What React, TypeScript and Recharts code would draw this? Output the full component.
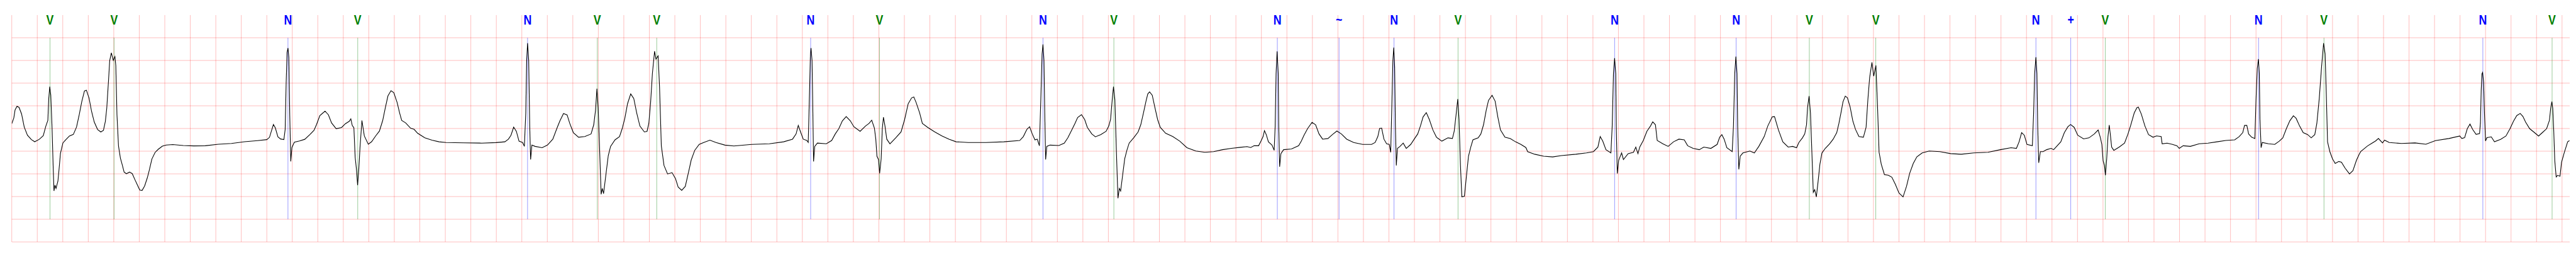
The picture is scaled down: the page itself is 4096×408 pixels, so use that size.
import React from 'react';
import { LineChart, Line, XAxis, YAxis, ReferenceLine, ReferenceDot } from 'recharts';

// ECG samples (time in seconds, amplitude in mV)
const ecgTimeS: number[] = [
  0.000, 0.016, 0.026, 0.041, 0.057, 0.077, 0.098, 0.123, 0.154, 0.180, 0.216, 0.247, 0.267, 0.283, 0.290, 0.298, 0.306, 0.316, 0.324, 0.331, 0.339, 0.347, 0.362, 0.370, 0.382, 0.401, 0.421, 0.452, 0.483, 0.508, 0.529, 0.549, 0.570, 0.585, 0.606, 0.626, 0.647, 0.673, 0.698, 0.719, 0.734, 0.745, 0.758, 0.768, 0.781, 0.796, 0.809, 0.816, 0.825, 0.837, 0.852, 0.868, 0.881, 0.899, 0.924, 0.945, 0.965, 0.986, 1.004, 1.022, 1.042, 1.063, 1.078, 1.099, 1.124, 1.150, 1.181, 1.212, 1.263, 1.345, 1.427, 1.518,
  1.620, 1.723, 1.826, 1.928, 2.000, 2.021, 2.036, 2.052, 2.067, 2.087, 2.108, 2.134, 2.144, 2.152, 2.159, 2.166, 2.173, 2.180, 2.188, 2.197, 2.216, 2.257, 2.298, 2.339, 2.370, 2.390, 2.416, 2.442, 2.457, 2.483, 2.508, 2.544, 2.586, 2.616, 2.647, 2.659, 2.670, 2.683, 2.693, 2.704, 2.712, 2.721, 2.731, 2.746, 2.755, 2.765, 2.796, 2.822, 2.853, 2.883, 2.909, 2.929, 2.950, 2.974, 2.996, 3.022, 3.042, 3.058, 3.089, 3.128,
  3.155, 3.183, 3.239, 3.295, 3.351, 3.406, 3.546, 3.685, 3.797, 3.867, 3.895, 3.915, 3.936, 3.957, 3.978, 4.006, 4.020, 4.031, 4.038, 4.045, 4.054, 4.062, 4.069, 4.079, 4.104, 4.159, 4.201, 4.243, 4.278, 4.299, 4.327, 4.355, 4.376, 4.404, 4.445, 4.494, 4.543, 4.564, 4.578, 4.589, 4.599, 4.609, 4.622, 4.631, 4.641, 4.662, 4.678, 4.696, 4.731, 4.766, 4.787, 4.808, 4.829, 4.854, 4.878, 4.901, 4.926, 4.961, 4.982, 4.996, 5.010, 5.024, 5.041, 5.052, 5.069, 5.080, 5.094, 5.115, 5.143, 5.178, 5.205, 5.226, 5.254, 5.282, 5.314,
  5.328, 5.356, 5.391, 5.426, 5.475, 5.523, 5.593, 5.663, 5.802, 5.942, 6.053, 6.123, 6.151, 6.168, 6.186, 6.207, 6.235, 6.246, 6.256, 6.263, 6.268, 6.276, 6.281, 6.288, 6.297, 6.318, 6.388, 6.430, 6.458, 6.486, 6.514, 6.544, 6.576, 6.604, 6.653, 6.695, 6.723, 6.744, 6.765, 6.776, 6.785, 6.797, 6.806, 6.818, 6.827, 6.836, 6.848, 6.862, 6.887, 6.932, 6.974, 7.002, 7.030, 7.057, 7.074, 7.092, 7.120, 7.141, 7.183, 7.239, 7.294, 7.350, 7.406, 7.501,
  7.640, 7.780, 7.905, 7.933, 7.961, 7.982, 8.003, 8.024, 8.042, 8.059, 8.070, 8.080, 8.087, 8.095, 8.101, 8.108, 8.117, 8.142, 8.212, 8.254, 8.282, 8.310, 8.338, 8.359, 8.389, 8.414, 8.435, 8.470, 8.498, 8.540, 8.582, 8.603, 8.617, 8.630, 8.640, 8.651, 8.663, 8.675, 8.686, 8.696, 8.711, 8.728, 8.745, 8.763, 8.798, 8.833, 8.854, 8.875, 8.895, 8.909, 8.923, 8.944, 8.965, 8.986, 9.007, 9.049, 9.105, 9.160, 9.216, 9.286, 9.356, 9.425, 9.495, 9.565, 9.635, 9.688,
  9.716, 9.743, 9.778, 9.799, 9.813, 9.824, 9.838, 9.855, 9.883, 9.900, 9.908, 9.915, 9.923, 9.932, 9.936, 9.943, 9.953, 9.974, 10.036, 10.092, 10.113, 10.134, 10.162, 10.197, 10.225, 10.252, 10.280, 10.322, 10.357, 10.392, 10.427, 10.469, 10.524, 10.594, 10.664, 10.692, 10.713, 10.727, 10.743, 10.761, 10.782, 10.803, 10.814, 10.824, 10.831, 10.838, 10.845, 10.851, 10.858, 10.867, 10.887, 10.912, 10.936, 10.971, 11.005, 11.026, 11.047, 11.068, 11.093, 11.117, 11.145, 11.173, 11.215, 11.263, 11.298, 11.312, 11.326, 11.340, 11.350, 11.361, 11.372, 11.392, 11.406, 11.424, 11.442, 11.459, 11.500, 11.521, 11.542, 11.563, 11.581, 11.609, 11.633, 11.654, 11.675, 11.710, 11.752, 11.793, 11.835, 11.874,
  11.888, 11.944, 12.014, 12.084, 12.153, 12.265, 12.349, 12.404, 12.439, 12.457, 12.477, 12.502, 12.541, 12.551, 12.561, 12.570, 12.579, 12.583, 12.591, 12.602, 12.625, 12.639, 12.676, 12.718, 12.736, 12.753, 12.767, 12.795, 12.823, 12.851, 12.869, 12.890, 12.904, 12.948, 12.990, 13.032, 13.074, 13.116, 13.143, 13.185, 13.234, 13.269, 13.325, 13.374, 13.394, 13.411, 13.429, 13.450, 13.492, 13.502, 13.512, 13.521, 13.530, 13.535, 13.544, 13.555, 13.576, 13.631, 13.666, 13.701, 13.743, 13.771, 13.806, 13.824, 13.855, 13.889, 13.931, 13.966, 13.997, 14.015, 14.043, 14.061,
  14.075, 14.083, 14.095, 14.106, 14.117, 14.128, 14.139, 14.152, 14.166, 14.180, 14.196, 14.222, 14.256, 14.284, 14.312, 14.329, 14.347, 14.361, 14.379, 14.396, 14.417, 14.438, 14.459, 14.486, 14.521, 14.542, 14.556, 14.570, 14.588, 14.602, 14.619, 14.630, 14.644, 14.661, 14.686, 14.717, 14.744, 14.772, 14.800, 14.832, 14.859, 14.884, 14.912, 14.940, 14.982, 15.037, 15.121, 15.205, 15.288, 15.386, 15.498, 15.595, 15.679, 15.721, 15.742, 15.762, 15.783, 15.804, 15.846, 15.856, 15.864, 15.874, 15.882, 15.888, 15.896, 15.909, 15.930, 15.958, 15.993, 16.013, 16.041, 16.069, 16.097, 16.125, 16.146, 16.174, 16.202, 16.248,
  16.290, 16.332, 16.362, 16.380, 16.391, 16.401, 16.411, 16.419, 16.429, 16.439, 16.449, 16.457, 16.468, 16.485, 16.527, 16.569, 16.596, 16.617, 16.645, 16.666, 16.677, 16.701, 16.729, 16.757, 16.792, 16.820, 16.856, 16.864, 16.903, 16.945, 16.980, 16.998, 17.029, 17.085, 17.154, 17.224, 17.294, 17.363, 17.433, 17.468, 17.496, 17.510, 17.528, 17.542, 17.566, 17.591, 17.600, 17.610, 17.619, 17.626, 17.631, 17.640, 17.649, 17.698, 17.747, 17.782, 17.810, 17.838, 17.865, 17.893, 17.914, 17.942, 17.970, 18.005, 18.033, 18.061, 18.077, 18.096, 18.114, 18.130, 18.142, 18.151, 18.161, 18.179, 18.200, 18.221, 18.249, 18.270, 18.298, 18.333, 18.360, 18.388, 18.409,
  18.421, 18.475, 18.506, 18.538, 18.560, 18.592, 18.608, 18.645, 18.741, 18.847, 18.932, 19.007, 19.113, 19.198, 19.214, 19.236, 19.257, 19.278, 19.299, 19.326, 19.353, 19.360, 19.366, 19.372, 19.377, 19.385, 19.392, 19.400, 19.411, 19.445, 19.470, 19.518, 19.560, 19.592, 19.619, 19.645, 19.672, 19.693, 19.714, 19.746, 19.778, 19.816, 19.847, 19.879, 19.901, 19.911, 19.920, 19.927, 19.935, 19.943, 19.954, 19.965, 19.984, 19.996, 20.018, 20.034, 20.044, 20.058,
];

const ecgMv: number[] = [
  0.105, 0.231, 0.41, 0.49, 0.466, 0.32, 0.03, -0.148, -0.245, -0.292, -0.238, -0.159, 0.05, 0.177, 0.664, 0.924, 0.736, 0.014, -0.78, -1.375, -1.249, -1.321, -1.159, -0.924, -0.545, -0.318, -0.256, -0.166, -0.13, 0.032, 0.303, 0.592, 0.827, 0.845, 0.671, 0.375, 0.141, -0.022, -0.076, -0.04, 0.159, 0.448, 1.025, 1.495, 1.668, 1.502, 1.585, 1.386, 0.303, -0.383, -0.653, -0.816, -0.96, -0.996, -0.96, -0.996, -1.123, -1.249, -1.357, -1.365, -1.267, -1.087, -0.924, -0.671, -0.527, -0.455, -0.39, -0.365, -0.354, -0.375, -0.383, -0.38,
  -0.347, -0.329, -0.292, -0.267, -0.245, -0.195, -0.058, 0.087, 0.014, -0.184, -0.231, -0.245, -0.022, 1.025, 1.675, 1.773, 1.567, 0.303, -0.726, -0.419, -0.303, -0.274, -0.238, -0.13, -0.04, 0.087, 0.285, 0.347, 0.383, 0.303, 0.123, -0.004, 0.022, 0.105, 0.159, 0.213, 0.069, 0.014, -0.635, -0.924, -1.249, -0.924, -0.419, 0.177, 0.014, -0.166, -0.347, -0.292, -0.166, -0.058, 0.177, 0.448, 0.718, 0.834, 0.791, 0.574, 0.339, 0.177, 0.123, 0.005,
  -0.018, -0.105, -0.206, -0.258, -0.293, -0.308, -0.316, -0.322, -0.311, -0.293, -0.235, -0.149, 0.031, -0.062, -0.279, -0.308, -0.394, 0.343, 1.5, 1.881, 1.5, 0.054, -0.684, -0.366, -0.394, -0.423, -0.366, -0.235, 0.025, 0.169, 0.329, 0.3, 0.112, -0.091, -0.192, -0.178, -0.12, 0.083, 0.401, 0.878, 0.459, -0.38, -1.45, -1.32, -1.436, -0.958, -0.597, -0.394, -0.25, -0.178, -0.004, 0.227, 0.545, 0.762, 0.661, 0.343, 0.054, -0.076, -0.062, 0.112, 0.574, 1.211, 1.702, 1.529, 1.601, 0.921, -0.38, -0.814, -1.002, -0.973, -1.103, -1.291, -1.363, -1.276, -0.88,
  -0.698, -0.481, -0.351, -0.308, -0.258, -0.308, -0.366, -0.386, -0.351, -0.337, -0.293, -0.235, -0.12, 0.068, -0.076, -0.235, -0.264, -0.308, 0.777, 1.615, 1.774, 1.5, 0.632, -0.727, -0.394, -0.322, -0.337, -0.264, -0.12, -0.004, 0.169, 0.262, 0.169, 0.039, -0.062, 0.054, 0.112, 0.184, 0.01, -0.235, -0.611, -0.684, -0.987, -0.669, -0.004, 0.25, 0.054, -0.235, -0.337, -0.206, -0.076, 0.198, 0.545, 0.676, 0.696, 0.574, 0.343, 0.112, 0.025, -0.076, -0.163, -0.235, -0.293, -0.308,
  -0.308, -0.293, -0.264, -0.178, -0.019, 0.039, -0.12, -0.25, -0.235, -0.38, 0.632, 1.644, 1.853, 1.5, 0.343, -0.684, -0.394, -0.366, -0.374, -0.322, -0.206, -0.047, 0.112, 0.242, 0.305, 0.198, 0.025, -0.12, -0.183, -0.134, -0.062, 0.054, 0.198, 0.632, 0.921, 0.632, -0.525, -1.537, -1.32, -1.378, -1.045, -0.669, -0.481, -0.322, -0.206, -0.076, 0.083, 0.343, 0.603, 0.762, 0.806, 0.733, 0.459, 0.198, 0.025, -0.105, -0.178, -0.279, -0.423, -0.496, -0.525, -0.51, -0.467, -0.438, -0.415, -0.4,
  -0.42, -0.38, -0.38, -0.264, -0.178, -0.047, -0.134, -0.293, -0.366, -0.481, 0.054, 1.211, 1.702, 1.211, 0.054, -0.843, -0.554, -0.467, -0.452, -0.38, -0.279, -0.149, -0.004, 0.135, 0.083, -0.12, -0.235, -0.221, -0.134, -0.056, -0.12, -0.235, -0.308, -0.351, -0.351, -0.308, -0.178, 0.002, 0.01, -0.235, -0.337, -0.351, -0.525, 0.632, 1.5, 1.783, 1.355, 0.054, -0.814, -0.438, -0.394, -0.322, -0.438, -0.351, -0.206, -0.12, 0.054, 0.256, 0.349, 0.198, -0.033, -0.192, -0.279, -0.206, -0.221, -0.062, 0.285, 0.647, 0.198, -0.814, -1.508, -1.493, -1.103, -0.611, -0.409, -0.25, -0.206, -0.12, 0.083, 0.401, 0.618, 0.733, 0.603, 0.256, -0.033, -0.192, -0.221, -0.293, -0.351, -0.42,
  -0.51, -0.568, -0.611, -0.626, -0.597, -0.568, -0.539, -0.51, -0.409, -0.178, -0.279, -0.467, -0.539, 0.054, 1.211, 1.552, 1.211, 0.054, -0.993, -0.698, -0.539, -0.684, -0.554, -0.525, -0.409, -0.554, -0.409, -0.264, -0.062, 0.054, 0.146, 0.083, -0.264, -0.337, -0.394, -0.293, -0.235, -0.25, -0.38, -0.438, -0.467, -0.409, -0.438, -0.351, -0.192, -0.134, -0.235, -0.423, -0.51, 0.054, 1.211, 1.587, 1.211, 0.054, -0.9, -0.611, -0.539, -0.496, -0.539, -0.394, -0.178, 0.054, 0.256, 0.262, -0.033, -0.293, -0.409, -0.394, -0.423, -0.308, -0.206, -0.12,
  0.083, 0.459, 0.713, 0.343, -0.525, -1.407, -1.349, -1.508, -1.161, -0.785, -0.539, -0.438, -0.337, -0.235, -0.091, 0.112, 0.372, 0.589, 0.713, 0.676, 0.473, 0.169, -0.019, -0.178, -0.192, 0.025, 0.632, 1.124, 1.456, 1.153, 1.39, 0.632, -0.525, -0.785, -1.016, -1.031, -1.074, -1.233, -1.421, -1.508, -1.276, -0.987, -0.77, -0.626, -0.539, -0.496, -0.51, -0.554, -0.568, -0.539, -0.525, -0.467, -0.423, -0.438, -0.293, -0.091, -0.149, -0.351, -0.38, 0.343, 1.211, 1.572, 1.211, 0.054, -0.756, -0.51, -0.51, -0.467, -0.438, -0.467, -0.38, -0.293, -0.091, 0.039, 0.088, 0.025, -0.149, -0.228,
  -0.206, -0.12, -0.033, -0.206, -0.351, -0.713, -0.814, -1.031, -0.669, -0.178, 0.077, -0.12, -0.409, -0.481, -0.409, -0.322, -0.12, 0.068, 0.343, 0.459, 0.473, 0.314, 0.054, -0.134, -0.192, -0.163, -0.178, -0.337, -0.322, -0.351, -0.38, -0.438, -0.38, -0.394, -0.337, -0.322, -0.293, -0.264, -0.25, -0.178, -0.091, 0.068, 0.068, -0.12, -0.192, -0.221, 0.632, 1.326, 1.529, 1.211, 0.198, -0.423, -0.308, -0.337, -0.351, -0.279, -0.206, -0.004, 0.169, 0.279, 0.227, 0.054, -0.091, -0.134, -0.206, -0.134, 0.112, 0.661, 1.355, 1.881, 1.644, 0.777, -0.293, -0.51, -0.669, -0.77, -0.727, -0.741, -0.872, -1.002, -0.93, -0.698, -0.568,
  -0.509, -0.383, -0.329, -0.274, -0.22, -0.318, -0.256, -0.31, -0.329, -0.318, -0.347, -0.267, -0.22, -0.166, -0.22, -0.202, -0.004, 0.097, -0.022, -0.13, -0.112, 0.123, 0.845, 1.206, 1.235, 1.025, 0.303, -0.274, -0.202, -0.184, -0.292, -0.238, -0.166, -0.004, 0.159, 0.285, 0.332, 0.267, 0.141, -0.004, -0.076, -0.166, -0.087, -0.004, 0.177, 0.448, 0.592, 0.448, -0.058, -0.708, -1.069, -1.032, -1.051, -0.744, -0.527, -0.383, -0.292, -0.267,
];

// Beat annotations (time in seconds, symbol)
const beatTimeS: number[] = [0.300, 0.802, 2.166, 2.713, 4.045, 4.592, 5.058, 6.265, 6.805, 8.087, 8.643, 9.925, 10.409, 10.840, 11.342, 12.570, 13.523, 14.097, 14.618, 15.874, 16.147, 16.418, 17.620, 18.133, 19.379, 19.922];
const beatSymbols: string[] = ['V', 'V', 'N', 'V', 'N', 'V', 'V', 'N', 'V', 'N', 'V', 'N', '~', 'N', 'V', 'N', 'N', 'V', 'V', 'N', '+', 'V', 'N', 'V', 'N', 'V'];

// Axes / grid
const timeDomainS: [number, number] = [0, 20.06];
const mvDomain: [number, number] = [-2.5, 2.5];
const gridStepS = 0.2;
const gridCount = 101;
const gridMv: number[] = [-2.5, -2.0, -1.5, -1.0, -0.5, 0, 0.5, 1.0, 1.5, 2.0];
const markerSpanMv: [number, number] = [-2.0, 2.0];

const data = ecgTimeS.map((t, i) => ({ t, v: ecgMv[i] }));
const gridTimes = Array.from({ length: gridCount }, (_, k) => Math.round(k * gridStepS * 1000) / 1000);

const symbolColor = (s: string) => (s === 'V' ? '#008000' : '#0000ff');

const W = 4096;
const H = 408;

export default function App() {
  return (
    <div style={{ position: 'absolute', left: 0, top: 0, width: W, height: H, background: '#ffffff' }}>
      <LineChart width={W} height={H} data={data} margin={{ top: 23.94, right: 10.02, bottom: 23.94, left: 18.71 }}>
        <XAxis type="number" dataKey="t" domain={timeDomainS} allowDataOverflow hide />
        <YAxis type="number" domain={mvDomain} allowDataOverflow hide />
        {gridTimes.map((t) => (
          <ReferenceLine key={`gx${t}`} x={t} stroke="#ff0000" strokeOpacity={0.26} strokeWidth={1} ifOverflow="visible" />
        ))}
        {gridMv.map((v) => (
          <ReferenceLine key={`gy${v}`} y={v} stroke="#ff0000" strokeOpacity={0.26} strokeWidth={1} ifOverflow="visible" />
        ))}
        {beatTimeS.map((t, i) => (
          <ReferenceLine
            key={`m${i}`}
            segment={[{ x: t, y: markerSpanMv[0] }, { x: t, y: markerSpanMv[1] }]}
            stroke={symbolColor(beatSymbols[i])}
            strokeOpacity={0.5}
            strokeWidth={0.8}
            ifOverflow="visible"
          />
        ))}
        <Line
          type="linear"
          dataKey="v"
          stroke="#000000"
          strokeWidth={1.1}
          dot={false}
          activeDot={false}
          isAnimationActive={false}
        />
        {beatTimeS.map((t, i) => (
          <ReferenceDot
            key={`l${i}`}
            x={t}
            y={mvDomain[1]}
            r={0}
            ifOverflow="visible"
            shape={(p: any) => (
              <text
                x={0}
                y={0}
                transform={`translate(${p.cx},${p.cy + 15.2}) scale(0.84,1)`}
                textAnchor="middle"
                fill={symbolColor(beatSymbols[i])}
                fontFamily="'Liberation Sans', Arial, sans-serif"
                fontWeight="bold"
                fontSize={21.2}
              >
                {beatSymbols[i]}
              </text>
            )}
          />
        ))}
      </LineChart>
    </div>
  );
}
